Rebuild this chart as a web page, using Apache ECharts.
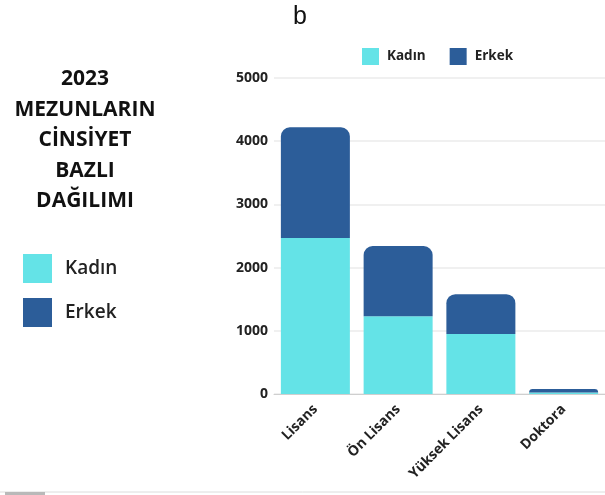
<!DOCTYPE html>
<html>
<head>
<meta charset="utf-8">
<script src="https://cdn.jsdelivr.net/npm/echarts@6/dist/echarts.min.js"></script>
<style>
html,body{margin:0;padding:0;background:#fff;}
#main{width:605px;height:495px;}
</style>
</head>
<body>
<div id="main"></div>
<script>
const categories = ['Lisans', 'Ön Lisans', 'Yüksek Lisans', 'Doktora'];
const kadin = [2470, 1230, 950, 25];
const erkek = [1750, 1110, 630, 55];
const yTicks = [0, 1000, 2000, 3000, 4000, 5000];
const seriesNames = ['Kadın', 'Erkek'];
const sideTitleLines = ['2023', 'MEZUNLARIN', 'CİNSİYET', 'BAZLI', 'DAĞILIMI'];

const FONT = '"Open Sans", "Noto Sans", sans-serif';
const C_KADIN = '#64e3e7';
const C_ERKEK = '#2c5d99';

const chart = echarts.init(document.getElementById('main'), null, {renderer: 'canvas'});
chart.setOption({
  backgroundColor: '#fff',
  animation: false,
  color: [C_KADIN, C_ERKEK],
  title: [{
    text: 'b',
    left: 288,
    top: 0,
    textStyle: {fontFamily: '"Liberation Sans", Arial, sans-serif', fontSize: 25, fontWeight: 'normal', color: '#111'}
  }],
  legend: [{
    data: seriesNames,
    left: 362,
    top: 48,
    padding: 0,
    itemWidth: 17,
    itemHeight: 17,
    itemGap: 24,
    icon: 'rect',
    textStyle: {fontFamily: FONT, fontSize: 13.5, fontWeight: 'bold', color: '#222', padding: [0, 0, 0, 3]}
  }, {
    data: seriesNames,
    orient: 'vertical',
    left: 23,
    top: 254,
    padding: 0,
    itemWidth: 29,
    itemHeight: 29,
    itemGap: 15,
    icon: 'rect',
    textStyle: {fontFamily: FONT, fontSize: 19, fontWeight: 600, color: '#222', padding: [0, 0, 0, 8]}
  }],
  graphic: [{
    type: 'text',
    left: 12,
    top: 64,
    style: {
      text: sideTitleLines.join('\n'),
      x: 0, y: 0,
      textAlign: 'center',
      font: 'bold 21px ' + FONT,
      lineHeight: 30.5,
      fill: '#111',
      width: 146,
      overflow: 'none'
    }
  }, {
    type: 'line',
    shape: {x1: 0, y1: 492, x2: 605, y2: 492},
    style: {stroke: '#dcdcdc', lineWidth: 1}
  }, {
    type: 'rect',
    shape: {x: 5, y: 492, width: 40, height: 3},
    style: {fill: '#b9b9b9'}
  }],
  grid: {left: 274, right: 0, top: 78, bottom: 101, containLabel: false},
  xAxis: {
    type: 'category',
    data: categories,
    axisTick: {show: false},
    axisLine: {lineStyle: {color: '#cfcfcf', width: 1}},
    axisLabel: {rotate: 45, margin: 13, fontFamily: FONT, fontSize: 14, fontWeight: 'bold', color: '#222'}
  },
  yAxis: {
    type: 'value',
    min: yTicks[0],
    max: yTicks[yTicks.length - 1],
    interval: 1000,
    axisLine: {show: false},
    axisTick: {show: false},
    axisLabel: {margin: 6, fontFamily: FONT, fontSize: 14, fontWeight: 'bold', color: '#222', formatter: v => String(v)},
    splitLine: {lineStyle: {color: '#ebebeb', width: 1.5}}
  },
  series: [{
    name: seriesNames[0],
    type: 'bar',
    stack: 'total',
    barWidth: 69,
    data: kadin,
    itemStyle: {color: C_KADIN}
  }, {
    name: seriesNames[1],
    type: 'bar',
    stack: 'total',
    barWidth: 69,
    data: erkek,
    itemStyle: {color: C_ERKEK, borderRadius: [9, 9, 0, 0]}
  }]
});
</script>
</body>
</html>
